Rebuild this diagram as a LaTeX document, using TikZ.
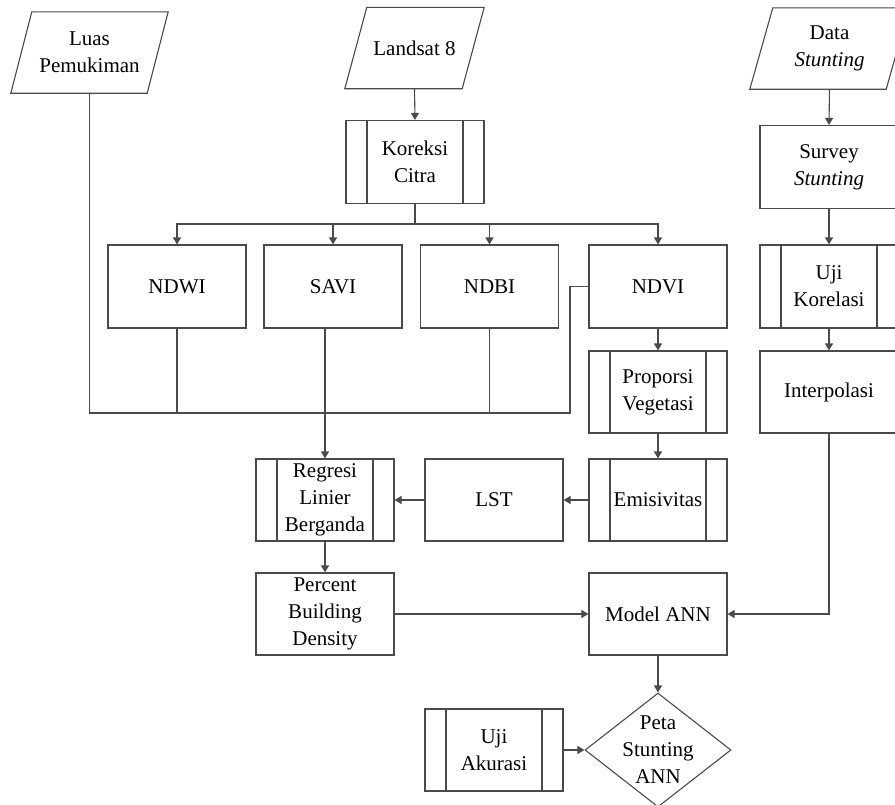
\documentclass[tikz,border=0pt]{standalone}
\usepackage{fontspec}
\setmainfont{Liberation Serif}
\usetikzlibrary{arrows.meta,shapes.geometric,calc}
\definecolor{ln}{HTML}{4A4A4A}
\newcommand\drawpara[2]{\draw[conn] ([xshift=#2]#1.north west) -- ([xshift=#2]#1.north east) -- ([xshift=-#2]#1.south east) -- ([xshift=-#2]#1.south west) -- cycle;}
\begin{document}
\begin{tikzpicture}[x=1pt,y=-1pt,
  every node/.style={font=\fontsize{21}{27}\selectfont, align=center, text=black},
  box/.style={draw=ln, line width=1.1pt, minimum width=138pt, minimum height=83pt, inner sep=0pt},
  proc/.style={box, path picture={
     \draw[ln,line width=1.1pt] ([xshift=21pt]path picture bounding box.north west) -- ([xshift=21pt]path picture bounding box.south west);
     \draw[ln,line width=1.1pt] ([xshift=-21pt]path picture bounding box.north east) -- ([xshift=-21pt]path picture bounding box.south east);}},
  paratext/.style={minimum width=#1, minimum height=81pt, inner sep=0pt},
  conn/.style={draw=ln, line width=1.1pt},
  arr/.style={conn, -{Triangle[length=7pt,width=8pt]}},
]
\useasboundingbox (0,0) rectangle (895,804);
\clip (0,0) rectangle (895,804);

% inputs (parallelograms)
\node[paratext=136pt] (luas) at (89.5,52.5) {Luas\\Pemukiman};
\drawpara{luas}{10.5pt}
\node[paratext=117pt] (landsat) at (414.5,48) {Landsat 8};
\drawpara{landsat}{11pt}
\node[paratext=136pt] (data) at (829.5,48.5) {Data\\\textit{Stunting}};
\drawpara{data}{11.5pt}

% boxes
\node[proc] (koreksi) at (415,162) {Koreksi\\Citra};
\node[box] (survey) at (829,167) {Survey\\\textit{Stunting}};
\node[box] (ndwi) at (177,286.5) {NDWI};
\node[box] (savi) at (333,286.5) {SAVI};
\node[box] (ndbi) at (489.5,286.5) {NDBI};
\node[box] (ndvi) at (658,286.5) {NDVI};
\node[proc] (ujikor) at (829,286.5) {Uji\\Korelasi};
\node[proc, minimum height=82pt] (proporsi) at (658,392) {Proporsi\\Vegetasi};
\node[box, minimum height=82pt] (interp) at (829,392) {Interpolasi};
\node[proc, minimum height=82pt] (regresi) at (325,500) {Regresi\\Linier\\Berganda};
\node[box, minimum height=82pt] (lst) at (494,500) {LST};
\node[proc, minimum height=82pt] (emis) at (658,500) {Emisivitas};
\node[box, minimum height=82pt] (percent) at (325,614) {Percent\\Building\\Density};
\node[box, minimum height=82pt] (model) at (658,614) {Model ANN};
\node[proc, minimum height=82pt] (ujiak) at (494,750) {Uji\\Akurasi};
\node[diamond, draw=ln, line width=1.1pt, minimum width=146pt, minimum height=114pt, inner sep=0pt] (peta) at (658,750) {};
\node (petatxt) at (peta.center) {Peta\\Stunting\\ANN};

% connectors
\coordinate (split) at (415,224);
\coordinate (bend) at (570,413);
\draw[arr] (landsat.south) -- (koreksi.north);
\draw[conn] (koreksi.south) -- (split);
\draw[arr] (split) -| (ndwi.north);
\draw[arr] (split) -| (savi.north);
\draw[arr] (split) -| (ndbi.north);
\draw[arr] (split) -| (ndvi.north);

\draw[conn] (luas.south) |- (bend) |- (ndvi.west);
\draw[conn] (ndwi.south) -- (ndwi.south |- bend);
\draw[conn] (ndbi.south) -- (ndbi.south |- bend);
\draw[arr] (savi.south -| regresi.north) -- (regresi.north);

\draw[arr] (ndvi.south) -- (proporsi.north);
\draw[arr] (proporsi.south) -- (emis.north);
\draw[arr] (emis.west) -- (lst.east);
\draw[arr] (lst.west) -- (regresi.east);
\draw[arr] (regresi.south) -- (percent.north);
\draw[arr] (percent.east) -- (model.west);

\draw[arr] (data.south) -- (survey.north);
\draw[arr] (survey.south) -- (ujikor.north);
\draw[arr] (ujikor.south) -- (interp.north);
\draw[arr] (interp.south) |- (model.east);

\draw[arr] (model.south) -- (peta.north);
\draw[arr] (ujiak.east) -- (peta.west);
\end{tikzpicture}
\end{document}
